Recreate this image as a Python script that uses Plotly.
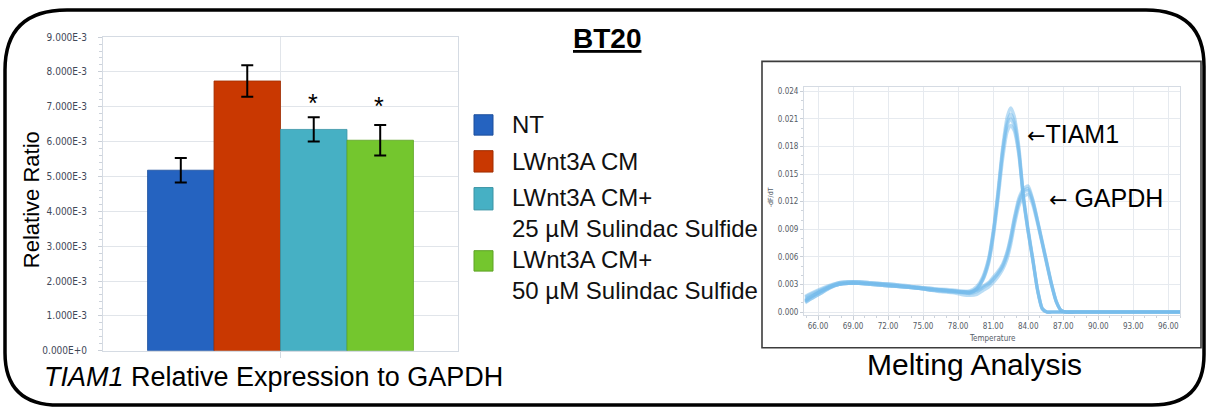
import plotly.graph_objects as go

# ---------------- qPCR bar data (BT20) ----------------
treatments = ["NT", "LWnt3A CM", "LWnt3A CM+\n25 µM Sulindac Sulfide", "LWnt3A CM+\n50 µM Sulindac Sulfide"]
relative_ratio = [5.18e-3, 7.74e-3, 6.35e-3, 6.04e-3]
ratio_error = [0.35e-3, 0.45e-3, 0.35e-3, 0.44e-3]
significant = [False, False, True, True]
bar_colors = ["#2563c0", "#c93801", "#46b0c4", "#74c62e"]
bar_edges = ["#1d4f9c", "#a02d01", "#3a93a4", "#5ea325"]

ratio_ticks = [0.000, 0.001, 0.002, 0.003, 0.004, 0.005, 0.006, 0.007, 0.008, 0.009]
ratio_tick_labels = ["0.000E+0", "1.000E-3", "2.000E-3", "3.000E-3", "4.000E-3",
                     "5.000E-3", "6.000E-3", "7.000E-3", "8.000E-3", "9.000E-3"]

# ---------------- melt curve data (-dF/dT vs temperature) ----------------
temperature = [64.9, 65.5, 66.2, 67.0, 67.8, 68.6, 69.5, 70.5, 71.5, 72.5,
               73.5, 74.5, 75.5, 76.5, 77.5, 78.3, 79.0, 79.6, 80.1, 80.6,
               81.0, 81.4, 81.8, 82.2, 82.5, 82.8, 83.2, 83.6, 84.0, 84.4,
               84.8, 85.2, 85.6, 86.0, 86.4, 86.8, 87.2, 88.0, 90.0, 93.0, 97.0]

tiam1_rep1 = [0.0013, 0.0017, 0.0022, 0.0027, 0.0031, 0.0032, 0.0032, 0.0031, 0.0030, 0.0029,
              0.0028, 0.0027, 0.0025, 0.0024, 0.0023, 0.0022, 0.0023, 0.0028, 0.0038, 0.0058,
              0.0088, 0.0130, 0.0178, 0.0212, 0.0222, 0.0213, 0.0180, 0.0126, 0.0090, 0.0058,
              0.0025, 0.0004, 0.0000, 0.0000, 0.0000, 0.0000, 0.0000, 0.0000, 0.0000, 0.0000, 0.0000]
tiam1_rep2 = [0.0010, 0.0015, 0.0020, 0.0026, 0.0030, 0.0031, 0.0031, 0.0031, 0.0030, 0.0029,
              0.0028, 0.0026, 0.0025, 0.0024, 0.0023, 0.0022, 0.0022, 0.0026, 0.0035, 0.0054,
              0.0084, 0.0125, 0.0172, 0.0206, 0.0215, 0.0207, 0.0176, 0.0124, 0.0088, 0.0057,
              0.0024, 0.0004, 0.0000, 0.0000, 0.0000, 0.0000, 0.0000, 0.0000, 0.0000, 0.0000, 0.0000]
tiam1_rep3 = [0.0017, 0.0021, 0.0025, 0.0029, 0.0032, 0.0033, 0.0033, 0.0032, 0.0031, 0.0030,
              0.0028, 0.0027, 0.0026, 0.0024, 0.0023, 0.0022, 0.0021, 0.0025, 0.0034, 0.0052,
              0.0080, 0.0120, 0.0165, 0.0196, 0.0203, 0.0197, 0.0170, 0.0121, 0.0086, 0.0055,
              0.0023, 0.0003, 0.0000, 0.0000, 0.0000, 0.0000, 0.0000, 0.0000, 0.0000, 0.0000, 0.0000]
tiam1_rep4 = [0.0012, 0.0017, 0.0022, 0.0027, 0.0030, 0.0031, 0.0031, 0.0030, 0.0029, 0.0028,
              0.0027, 0.0026, 0.0024, 0.0023, 0.0022, 0.0021, 0.0021, 0.0025, 0.0036, 0.0056,
              0.0086, 0.0127, 0.0174, 0.0203, 0.0210, 0.0202, 0.0173, 0.0123, 0.0087, 0.0056,
              0.0024, 0.0004, 0.0000, 0.0000, 0.0000, 0.0000, 0.0000, 0.0000, 0.0000, 0.0000, 0.0000]

gapdh_rep1 = [0.0014, 0.0018, 0.0023, 0.0028, 0.0032, 0.0033, 0.0033, 0.0032, 0.0031, 0.0030,
              0.0029, 0.0027, 0.0026, 0.0025, 0.0024, 0.0023, 0.0022, 0.0024, 0.0028, 0.0032,
              0.0038, 0.0044, 0.0052, 0.0066, 0.0082, 0.0102, 0.0124, 0.0134, 0.0137, 0.0122,
              0.0100, 0.0077, 0.0054, 0.0031, 0.0012, 0.0002, 0.0000, 0.0000, 0.0000, 0.0000, 0.0000]
gapdh_rep2 = [0.0011, 0.0015, 0.0020, 0.0026, 0.0030, 0.0031, 0.0031, 0.0030, 0.0029, 0.0028,
              0.0027, 0.0026, 0.0024, 0.0023, 0.0022, 0.0021, 0.0020, 0.0022, 0.0026, 0.0030,
              0.0035, 0.0041, 0.0049, 0.0062, 0.0077, 0.0097, 0.0119, 0.0130, 0.0132, 0.0119,
              0.0098, 0.0075, 0.0052, 0.0030, 0.0011, 0.0002, 0.0000, 0.0000, 0.0000, 0.0000, 0.0000]
gapdh_rep3 = [0.0016, 0.0020, 0.0024, 0.0028, 0.0031, 0.0032, 0.0032, 0.0031, 0.0030, 0.0028,
              0.0027, 0.0026, 0.0024, 0.0022, 0.0021, 0.0019, 0.0018, 0.0019, 0.0023, 0.0027,
              0.0032, 0.0038, 0.0046, 0.0058, 0.0073, 0.0093, 0.0115, 0.0125, 0.0128, 0.0116,
              0.0096, 0.0074, 0.0051, 0.0029, 0.0011, 0.0002, 0.0000, 0.0000, 0.0000, 0.0000, 0.0000]
gapdh_rep4 = [0.0012, 0.0017, 0.0022, 0.0027, 0.0030, 0.0031, 0.0031, 0.0030, 0.0029, 0.0028,
              0.0027, 0.0026, 0.0025, 0.0024, 0.0023, 0.0022, 0.0021, 0.0023, 0.0027, 0.0031,
              0.0036, 0.0042, 0.0050, 0.0064, 0.0080, 0.0100, 0.0121, 0.0132, 0.0134, 0.0121,
              0.0099, 0.0076, 0.0053, 0.0030, 0.0012, 0.0002, 0.0000, 0.0000, 0.0000, 0.0000, 0.0000]

melt_curves = [tiam1_rep1, tiam1_rep2, tiam1_rep3, tiam1_rep4,
               gapdh_rep1, gapdh_rep2, gapdh_rep3, gapdh_rep4]

temp_ticks = [66, 69, 72, 75, 78, 81, 84, 87, 90, 93, 96]
temp_tick_labels = ["66.00", "69.00", "72.00", "75.00", "78.00", "81.00",
                    "84.00", "87.00", "90.00", "93.00", "96.00"]
dfdt_ticks = [0.000, 0.003, 0.006, 0.009, 0.012, 0.015, 0.018, 0.021, 0.024]
dfdt_tick_labels = ["0.000", "0.003", "0.006", "0.009", "0.012", "0.015", "0.018", "0.021", "0.024"]

# ---------------- page geometry (pixels) ----------------
W, H = 1207, 414


def fx(px):
    return px / W


def fy(py):
    return 1 - py / H


TEXT_FONT = "Liberation Sans, Arial, sans-serif"
TICK_FONT = "DejaVu Sans Condensed, Liberation Sans Narrow, Arial Narrow, sans-serif"
ARROW = "<span style='font-family:DejaVu Sans;font-size:22px'>←</span>"

fig = go.Figure()

# bars with error bars
for name, val, err, col, edge in zip(treatments, relative_ratio, ratio_error, bar_colors, bar_edges):
    fig.add_trace(go.Bar(
        x=["BT20"], y=[val], name=name.replace("\n", " "),
        marker=dict(color=col, line=dict(color=edge, width=0.8)),
        error_y=dict(type="data", array=[err], color="black", thickness=2, width=6),
        xaxis="x", yaxis="y", showlegend=False,
    ))

# melt curves
for curve in melt_curves:
    fig.add_trace(go.Scatter(
        x=temperature, y=curve, mode="lines",
        line=dict(color="rgba(118,188,236,0.5)", width=3.2, shape="spline", smoothing=0.6),
        xaxis="x2", yaxis="y2", showlegend=False, hoverinfo="skip",
    ))

# empty trace that anchors the pixel-space overlay axes
fig.add_trace(go.Scatter(x=[], y=[], xaxis="x3", yaxis="y3", showlegend=False, hoverinfo="skip"))

grid_bar = "#e1e5ea"
grid_melt = "#e6eaef"

fig.update_layout(
    width=W, height=H, autosize=False,
    margin=dict(l=0, r=0, t=0, b=0),
    paper_bgcolor="white", plot_bgcolor="rgba(0,0,0,0)",
    barmode="group", bargap=0.251, bargroupgap=0,
    font=dict(family=TEXT_FONT, color="black"),
    xaxis=dict(
        domain=[fx(103), fx(458)], anchor="y", type="category", range=[-0.5, 0.5],
        showticklabels=False, showgrid=True, gridcolor=grid_bar, gridwidth=1,
        ticks="outside", ticklen=6, tickcolor="#d3d9e0",
        showline=True, linecolor="#d5dbe3", linewidth=1, mirror=True, zeroline=False,
    ),
    yaxis=dict(
        domain=[fy(355), fy(32)], anchor="x", range=[0, 0.009],
        tickvals=ratio_ticks, ticktext=ratio_tick_labels,
        tickfont=dict(family=TICK_FONT, size=10, color="#3f4858"),
        ticks="outside", ticklen=4, tickcolor="#c9cfd7", ticklabelstandoff=9,
        minor=dict(dtick=0.0002, ticks="outside", ticklen=3, tickcolor="#cdd3db", showgrid=False),
        showgrid=True, gridcolor=grid_bar, gridwidth=1,
        showline=True, linecolor="#d5dbe3", linewidth=1, mirror=True, zeroline=False,
    ),
    xaxis2=dict(
        domain=[fx(804), fx(1180)], anchor="y2", range=[64.8, 97.0],
        tickvals=temp_ticks, ticktext=temp_tick_labels,
        tickfont=dict(family=TICK_FONT, size=8, color="#555c66"),
        ticks="outside", ticklen=4, tickcolor="#c9cfd7",
        minor=dict(dtick=1, ticks="outside", ticklen=2, tickcolor="#cdd3db", showgrid=False),
        showgrid=True, gridcolor=grid_melt, gridwidth=1,
        showline=True, linecolor="#d5dbe3", linewidth=1, mirror=True, zeroline=False,
    ),
    yaxis2=dict(
        domain=[fy(318), fy(83)], anchor="x2", range=[-0.0003, 0.0245],
        tickvals=dfdt_ticks, ticktext=dfdt_tick_labels,
        tickfont=dict(family=TICK_FONT, size=8, color="#555c66"),
        ticks="outside", ticklen=3, tickcolor="#c9cfd7",
        minor=dict(dtick=0.001, ticks="outside", ticklen=2, tickcolor="#cdd3db", showgrid=False),
        showgrid=True, gridcolor=grid_melt, gridwidth=1,
        showline=True, linecolor="#d5dbe3", linewidth=1, mirror=True, zeroline=False,
    ),
    # overlay axes in page pixels for frames, legend and captions
    xaxis3=dict(domain=[0, 1], anchor="y3", range=[0, W], visible=False, fixedrange=True),
    yaxis3=dict(domain=[0, 1], anchor="x3", range=[H, 0], visible=False, fixedrange=True),
)

shapes = []
# outer rounded frame
L, T, R, B = 5, 4, 1204, 411
rtl, rtr, rbr, rbl = 62, 58, 52, 54
frame = (f"M {L+rtl},{T} L {R-rtr},{T} Q {R},{T} {R},{T+rtr} "
         f"L {R},{B-rbr} Q {R},{B} {R-rbr},{B} L {L+rbl},{B} Q {L},{B} {L},{B-rbl} "
         f"L {L},{T+rtl} Q {L},{T} {L+rtl},{T} Z")
shapes.append(dict(type="path", path=frame, xref="x3", yref="y3",
                   line=dict(color="black", width=3.5)))
# melt curve panel frame
shapes.append(dict(type="rect", x0=762, y0=57, x1=1201, y1=352, xref="x3", yref="y3",
                   line=dict(color="#3c3c3c", width=1.6)))

annotations = []

# legend swatches and labels
legend_rows = [(112, 133), (149, 171), (187, 210), (252, 273)]
for (y0, y1), name, col, edge in zip(legend_rows, treatments, bar_colors, bar_edges):
    shapes.append(dict(type="rect", x0=474, x1=493, y0=y0, y1=y1, xref="x3", yref="y3",
                       fillcolor=col, line=dict(color=edge, width=1)))
    n_lines = name.count("\n") + 1
    yc = (y0 + y1) / 2 + (n_lines - 1) * 15
    annotations.append(dict(text=name.replace("\n", "<br>"), x=510, y=yc, xref="x3", yref="y3",
                            xanchor="left", yanchor="middle", align="left", showarrow=False,
                            font=dict(size=24, family=TEXT_FONT, color="#111")))

# significance marks above the treated bars
star_x = [None, None, 313, 379]
star_y = [None, None, 100, 103]
for sig, sx, sy in zip(significant, star_x, star_y):
    if sig:
        annotations.append(dict(text="*", x=sx, y=sy, xref="x3", yref="y3", showarrow=False,
                                xanchor="center", yanchor="middle",
                                font=dict(size=25, family=TEXT_FONT, color="black")))

# titles and captions
annotations += [
    dict(text="<b><u>BT20</u></b>", x=607, y=33, xref="x3", yref="y3", showarrow=False,
         xanchor="center", yanchor="middle", font=dict(size=28, family=TEXT_FONT, color="black")),
    dict(text="Relative Ratio", x=31, y=200, xref="x3", yref="y3", showarrow=False, textangle=-90,
         xanchor="center", yanchor="middle", font=dict(size=22, family=TEXT_FONT, color="black")),
    dict(text="<i>TIAM1</i> Relative Expression to GAPDH", x=42, y=382, xref="x3", yref="y3",
         showarrow=False, xanchor="left", yanchor="middle",
         font=dict(size=27, family=TEXT_FONT, color="black")),
    dict(text="Melting Analysis", x=974, y=369, xref="x3", yref="y3", showarrow=False,
         xanchor="center", yanchor="middle", font=dict(size=30, family=TEXT_FONT, color="black")),
    dict(text=ARROW + "TIAM1", x=1025, y=132, xref="x3", yref="y3",
         showarrow=False, xanchor="left", yanchor="middle",
         font=dict(size=25, family=TEXT_FONT, color="black")),
    dict(text=ARROW + " GAPDH", x=1047, y=198, xref="x3", yref="y3",
         showarrow=False, xanchor="left", yanchor="middle",
         font=dict(size=25, family=TEXT_FONT, color="black")),
    dict(text="Temperature", x=992, y=342, xref="x3", yref="y3", showarrow=False,
         xanchor="center", yanchor="middle", font=dict(size=8, family=TICK_FONT, color="#555c66")),
    dict(text="-dF/dT", x=771, y=197, xref="x3", yref="y3", showarrow=False, textangle=-90,
         xanchor="center", yanchor="middle", font=dict(size=7, family=TICK_FONT, color="#555c66")),
]

fig.update_layout(shapes=shapes, annotations=annotations)

fig.write_html("out.html")
